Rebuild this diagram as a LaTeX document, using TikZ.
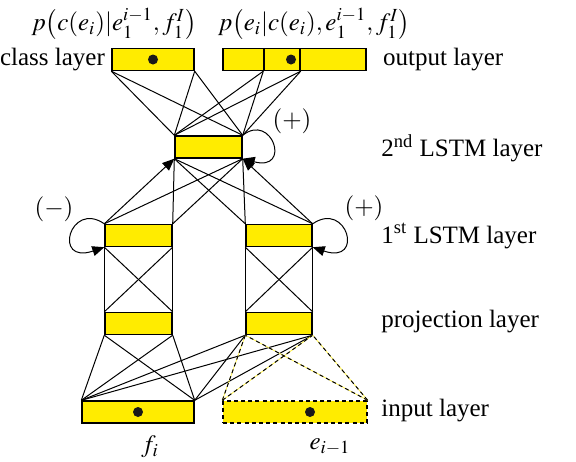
\documentclass[tikz,border=0pt]{standalone}
\usepackage{mathptmx}
\usepackage[no-math]{fontspec}
\setmainfont{Liberation Serif}
\usetikzlibrary{arrows.meta,positioning,calc}
\definecolor{jaune}{HTML}{FFEC00}
\tikzset{
  cell/.style={rectangle, draw=black, line width=0.7pt, fill=jaune, inner sep=0pt,
               minimum width=#1, minimum height=11pt},
  dot/.style={circle, fill=black!90, inner sep=0pt, minimum size=5pt},
  lbl/.style={font=\fontsize{12.5}{14}\selectfont, inner sep=1pt},
  lien/.style={line width=0.5pt},
  tiret/.style={line width=0.5pt, preaction={draw=jaune!70}, dashed, dash pattern=on 2pt off 1.6pt},
  arr/.style={-{Triangle[length=6pt,width=5pt]}, line width=0.5pt},
}

\begin{document}
\begin{tikzpicture}[x=0.5pt, y=-0.5pt]
    \useasboundingbox (0,0) rectangle (576,461);
    % boxes
    \node[cell=41pt] (cls) at (153,59.5) {};
    \node[cell=20.5pt] (out1) at (243.5,59.5) {};
    \node[cell=18pt] (out2) at (282,59.5) {};
    \node[cell=33pt] (out3) at (333,59.5) {};
    \node[cell=33.5pt] (lstm2) at (208.5,147) {};
    \node[cell=33.5pt] (l1L) at (138.5,235.5) {};
    \node[cell=33pt] (l1R) at (279,235.5) {};
    \node[cell=33.5pt] (prL) at (138.5,323.5) {};
    \node[cell=33pt] (prR) at (279,323.5) {};
    \node[cell=56pt] (inL) at (138,412) {};
    \node[cell=72pt, dashed, dash pattern=on 2pt off 1.6pt] (inR) at (295,412) {};
    \node[dot] at (cls.center) {};
    \node[dot] at ($(out2.center)+(9,0)$) {};
    \node[dot] at (inL.center) {};
    \node[dot] at ($(inR.center)+(15,0)$) {};
    % texts
    \node[lbl, left=2pt of cls] {class layer};
    \node[lbl, right=7pt of out3] {output layer};
    \node[lbl, anchor=west] at (379,148) {2\textsuperscript{nd} LSTM layer};
    \node[lbl, anchor=west] at (379,236) {1\textsuperscript{st} LSTM layer};
    \node[lbl, anchor=west] at (379,322) {projection layer};
    \node[lbl, anchor=west] at (379,411) {input layer};
    \node[lbl] (pc) at (114,24) {$p\bigl(c(e_i)|e_1^{i-1},f_1^I\bigr)$};
    \node[lbl] (pe) at (314,24) {$p\bigl(e_i|c(e_i),e_1^{i-1},f_1^I\bigr)$};
    \node[lbl] (fi) at (150,447) {$f_i$};
    \node[lbl] (ei) at (330,447) {$e_{i-1}$};
    \node[lbl] (p2) at (292,121) {$(+)$};
    \node[lbl] (mL) at (54,209) {$(-)$};
    \node[lbl] (pR) at (364,208) {$(+)$};
    % top connections
    \foreach \a in {cls.south west, cls.south east, out2.south west, out2.south east}
      \foreach \b in {lstm2.north west, lstm2.north east}
        \draw[lien] (\a) -- (\b);
    % 1st -> 2nd LSTM
    \draw[arr] (l1L.north west) -- (lstm2.south west);
    \draw[lien] (l1L.north west) -- (lstm2.south east);
    \draw[lien] (l1L.north east) -- (lstm2.south west);
    \draw[lien] (l1L.north east) -- (lstm2.south east);
    \draw[lien] (l1R.north west) -- (lstm2.south west);
    \draw[lien] (l1R.north west) -- (lstm2.south east);
    \draw[lien] (l1R.north east) -- (lstm2.south west);
    \draw[arr] (l1R.north east) -- (lstm2.south east);
    % recurrences
    \draw[arr] (lstm2.north east) .. controls (272,112) and (292,172) .. (lstm2.south east);
    \draw[arr] (l1L.north west) .. controls (70,200) and (52,265) .. (l1L.south west);
    \draw[arr] (l1R.north east) .. controls (347,200) and (365,265) .. (l1R.south east);
    % projection -> 1st LSTM
    \foreach \p/\l in {prL/l1L, prR/l1R} {
      \draw[lien] (\p.north west) -- (\l.south west);
      \draw[lien] (\p.north east) -- (\l.south east);
      \draw[lien] (\p.north west) -- (\l.south east);
      \draw[lien] (\p.north east) -- (\l.south west);
    }
    % input -> projection
    \foreach \a in {inL.north west, inL.north east}
      \foreach \b in {prL.south west, prL.south east, prR.south west, prR.south east}
        \draw[lien] (\a) -- (\b);
    \foreach \a in {inR.north west, inR.north east}
      \foreach \b in {prR.south west, prR.south east}
        \draw[tiret] (\a) -- (\b);
  \end{tikzpicture}
\end{document}
